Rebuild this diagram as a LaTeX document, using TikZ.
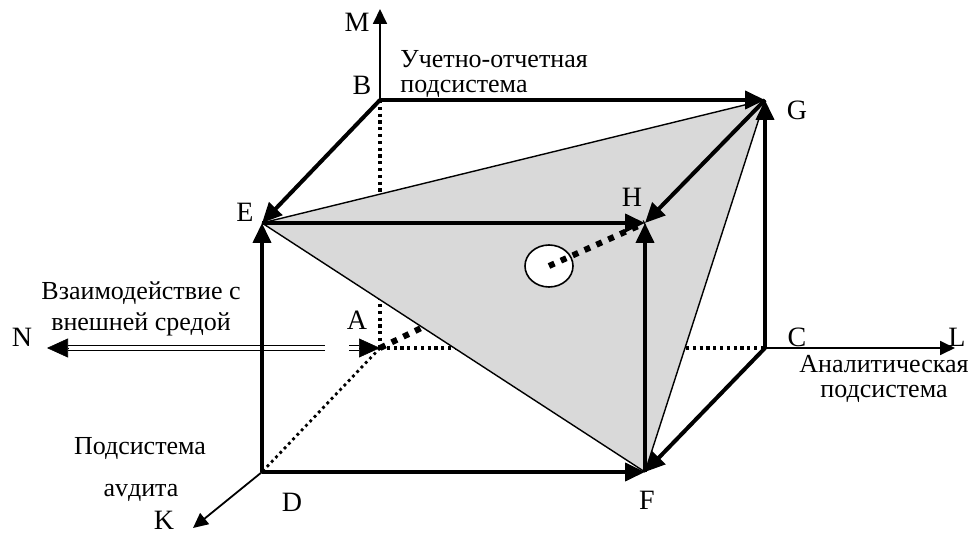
\documentclass[tikz,border=0pt]{standalone}
\usepackage{fontspec}
\setmainfont{Liberation Serif}
\usetikzlibrary{arrows.meta,shapes.geometric}
\begin{document}
\begin{tikzpicture}[x=0.5pt,y=-0.5pt,
  edge/.style={line width=2pt, -{Triangle[length=10pt,width=9pt]}},
  axisarr/.style={line width=0.9pt, -{Triangle[length=7.5pt,width=7pt]}},
  faceline/.style={line width=0.7pt},
  backdot/.style={line width=1.6pt, dash pattern=on 1.6pt off 1.8pt},
  diagdot/.style={line width=1.4pt, dash pattern=on 1.4pt off 1.7pt},
  bigdot/.style={line width=3pt, dash pattern=on 3pt off 3.5pt},
  dbl/.style={double, double distance=1.6pt, line width=0.7pt},
  tipbig/.style={line width=0.3pt, -{Triangle[length=10.5pt,width=9.5pt]}},
  shadefill/.style={fill=black!15},
  lbl/.style={font=\fontsize{13}{14}\selectfont, inner sep=0pt},
  letter/.style={font=\fontsize{14}{15}\selectfont, inner sep=0pt}]
\useasboundingbox (0,0) rectangle (975,534);
% vertices
\coordinate (A) at (380,348);
\coordinate (B) at (380,100);
\coordinate (C) at (765,348);
\coordinate (D) at (262,472);
\coordinate (E) at (262,223);
\coordinate (F) at (645,472);
\coordinate (G) at (765,100);
\coordinate (H) at (645,223);
% axis ends
\coordinate (M) at (380,9);
\coordinate (L) at (955,348);
\coordinate (K) at (193,528);
\coordinate (N) at (47,348);
\coordinate (N1) at (325,348);
\coordinate (N2) at (68,348);
\coordinate (S1) at (349,348);
\coordinate (S2) at (359,348);
\coordinate (O) at (549,266);
% hidden edges
\draw[backdot] (B) -- (A);
\draw[backdot] (A) -- (C);
\draw[bigdot] (A) -- (O);
% shaded triangle
\fill[shadefill] (E) -- (G) -- (F) -- cycle;
\draw[faceline] (E) -- (G);
\draw[faceline] (G) -- (F);
\draw[faceline] (E) -- (F);
% circle
\node[ellipse, draw, fill=white, line width=0.8pt, minimum width=24pt, minimum height=21pt, inner sep=0pt] (circ) at (O) {};
\draw[bigdot] (circ.center) -- (H);
% external interaction
\draw[dbl] (N1) -- (N2);
\draw[tipbig] (N2) -- (N);
\draw[dbl] (S1) -- (S2);
\draw[tipbig] (S2) -- (A);
% axes
\draw[axisarr] (B) -- (M);
\draw[axisarr] (C) -- (L);
\draw[axisarr] (D) -- (K);
\draw[diagdot] (A) -- (D);
% cube edges
\draw[edge] (B) -- (G);
\draw[edge] (B) -- (E);
\draw[edge] (D) -- (E);
\draw[edge] (D) -- (F);
\draw[edge] (E) -- (H);
\draw[edge] (F) -- (H);
\draw[edge] (G) -- (H);
\draw[edge] (C) -- (F);
\draw[edge] (C) -- (G);
% letters
\node[letter] (tM) at (357,22) {M};
\node[letter] (tB) at (362,85) {B};
\node[letter] (tG) at (797,110) {G};
\node[letter] (tE) at (245,212) {E};
\node[letter] (tH) at (632,197) {H};
\node[letter] (tA) at (357,320) {A};
\node[letter] (tC) at (797,337) {C};
\node[letter] (tL) at (957,337) {L};
\node[letter] (tD) at (292,502) {D};
\node[letter] (tF) at (647,500) {F};
\node[letter] (tK) at (164,520) {K};
\node[letter] (tN) at (22,337) {N};
% texts
\node[lbl, anchor=base west] (u1) at (400,68) {Учетно-отчетная};
\node[lbl, anchor=base west] (u2) at (400,93) {подсистема};
\node[lbl, anchor=base] (v1) at (141,300) {Взаимодействие с};
\node[lbl, anchor=base] (v2) at (141,331) {внешней средой};
\node[lbl, anchor=base] (a1) at (884,372) {Аналитическая};
\node[lbl, anchor=base] (a2) at (884,397) {подсистема};
\node[lbl, anchor=base] (p1) at (140,454) {Подсистема};
\node[lbl, anchor=base] (p2) at (141,496) {аvдита};
\end{tikzpicture}
\end{document}
